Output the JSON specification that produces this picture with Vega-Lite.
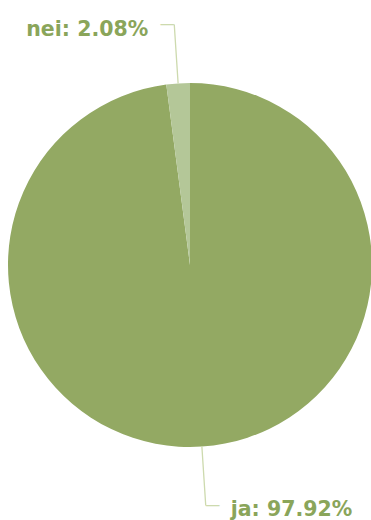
{
  "$schema": "https://vega.github.io/schema/vega-lite/v6.json",
  "width": 362,
  "height": 510,
  "padding": {"left": 9, "top": 10, "right": 0, "bottom": 0},
  "autosize": {"type": "none"},
  "background": "white",
  "config": {"view": {"stroke": null}},
  "data": {
    "values": [
      {"label": "ja", "value": 97.92, "caption": "ja: 97.92%"},
      {"label": "nei", "value": 2.08, "caption": "nei: 2.08%"}
    ]
  },
  "layer": [
    {
      "mark": {"type": "arc", "radius": 182},
      "encoding": {
        "theta": {"field": "value", "type": "quantitative", "stack": true, "scale": {"domain": [0, 100]}},
        "color": {"field": "label", "type": "nominal", "scale": {"domain": ["ja", "nei"], "range": ["#93a963", "#b4c798"]}, "legend": null},
        "order": {"field": "label", "type": "ordinal", "sort": "ascending"}
      }
    },
    {
      "transform": [
        {"stack": "value", "groupby": [], "sort": [{"field": "label", "order": "ascending"}], "as": ["v0", "v1"]},
        {"fold": ["v0", "v1"], "as": ["edge", "angle"]},
        {"aggregate": [{"op": "mean", "field": "angle", "as": "mid"}], "groupby": ["label", "caption"]}
      ],
      "mark": {"type": "arc", "radius": 241, "radius2": 182, "filled": false, "stroke": "#cddaae", "strokeWidth": 1.3},
      "encoding": {
        "theta": {"field": "mid", "type": "quantitative", "stack": null, "scale": {"domain": [0, 100]}},
        "theta2": {"field": "mid"}
      }
    },
    {
      "transform": [
        {"stack": "value", "groupby": [], "sort": [{"field": "label", "order": "ascending"}], "as": ["v0", "v1"]},
        {"fold": ["v0", "v1"], "as": ["edge", "angle"]},
        {"aggregate": [{"op": "mean", "field": "angle", "as": "mid"}], "groupby": ["label", "caption"]},
        {"filter": "datum.label === 'nei'"}
      ],
      "layer": [
        {
          "mark": {"type": "text", "radius": 241, "align": "right", "baseline": "alphabetic", "dx": -26, "dy": 11, "font": "DejaVu Sans", "fontWeight": "bold", "fontSize": 20.5, "color": "#8aa55a"},
          "encoding": {
            "theta": {"field": "mid", "type": "quantitative", "stack": null, "scale": {"domain": [0, 100]}},
            "text": {"field": "caption"}
          }
        },
        {
          "mark": {"type": "text", "radius": 241, "align": "right", "baseline": "alphabetic", "dx": 0.5, "dy": 4.4, "font": "DejaVu Sans", "fontSize": 15, "text": "—", "color": "#cddaae"},
          "encoding": {
            "theta": {"field": "mid", "type": "quantitative", "stack": null, "scale": {"domain": [0, 100]}}
          }
        }
      ]
    },
    {
      "transform": [
        {"stack": "value", "groupby": [], "sort": [{"field": "label", "order": "ascending"}], "as": ["v0", "v1"]},
        {"fold": ["v0", "v1"], "as": ["edge", "angle"]},
        {"aggregate": [{"op": "mean", "field": "angle", "as": "mid"}], "groupby": ["label", "caption"]},
        {"filter": "datum.label === 'ja'"}
      ],
      "layer": [
        {
          "mark": {"type": "text", "radius": 241, "align": "left", "baseline": "alphabetic", "dx": 25, "dy": 11, "font": "DejaVu Sans", "fontWeight": "bold", "fontSize": 20.5, "color": "#8aa55a"},
          "encoding": {
            "theta": {"field": "mid", "type": "quantitative", "stack": null, "scale": {"domain": [0, 100]}},
            "text": {"field": "caption"}
          }
        },
        {
          "mark": {"type": "text", "radius": 241, "align": "left", "baseline": "alphabetic", "dx": -0.5, "dy": 4.4, "font": "DejaVu Sans", "fontSize": 15, "text": "—", "color": "#cddaae"},
          "encoding": {
            "theta": {"field": "mid", "type": "quantitative", "stack": null, "scale": {"domain": [0, 100]}}
          }
        }
      ]
    }
  ]
}
